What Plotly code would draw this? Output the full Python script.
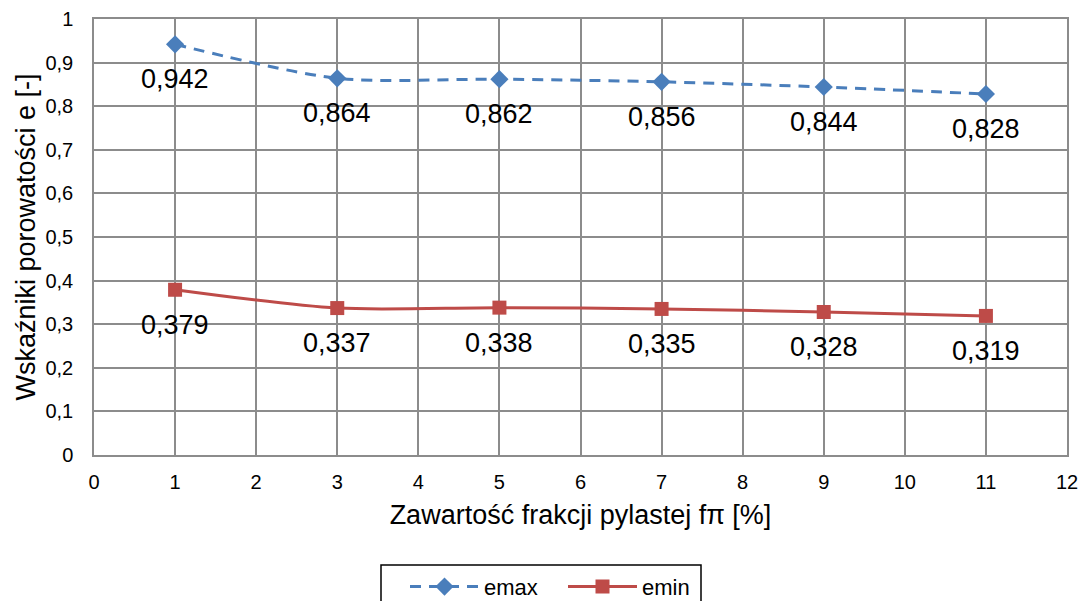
import plotly.graph_objects as go

x_vals = [1, 3, 5, 7, 9, 11]
emax = [0.942, 0.864, 0.862, 0.856, 0.844, 0.828]
emin = [0.379, 0.337, 0.338, 0.335, 0.328, 0.319]
series_names = ["emax", "emin"]
y_ticks = [0, 0.1, 0.2, 0.3, 0.4, 0.5, 0.6, 0.7, 0.8, 0.9, 1.0]
y_ticktext = ["0", "0,1", "0,2", "0,3", "0,4", "0,5", "0,6", "0,7", "0,8", "0,9", "1"]
x_ticks = list(range(0, 13))

BLUE = "#4A7EBB"
RED = "#BE4B48"
GRID = "#8C8C8C"
FONT = "Liberation Sans, Arial, sans-serif"

def fmt(v):
    return f"{v:.3f}".replace(".", ",")

fig = go.Figure()
fig.add_trace(go.Scatter(
    x=x_vals, y=emax, name=series_names[0], mode="lines+markers",
    line=dict(color=BLUE, width=3, dash="11px,8px", shape="spline", smoothing=0.8),
    marker=dict(symbol="diamond", size=14, color=BLUE),
))
fig.add_trace(go.Scatter(
    x=x_vals, y=emin, name=series_names[1], mode="lines+markers",
    line=dict(color=RED, width=3, shape="spline", smoothing=0.8),
    marker=dict(symbol="square", size=14, color=RED),
))

annotations = []
for series in (emax, emin):
    for xv, yv in zip(x_vals, series):
        annotations.append(dict(
            x=xv, y=yv, xref="x", yref="y", text=fmt(yv), showarrow=False,
            yshift=-35, xanchor="center", yanchor="middle",
            font=dict(family=FONT, size=27, color="black"),
        ))

# legend frame (drawn as a paper-space rectangle)
legend_frame = dict(
    type="rect", xref="paper", yref="paper",
    x0=(381 - 94) / 973, x1=(701 - 94) / 973,
    y0=-(565 - 455) / 436, y1=-(620 - 455) / 436,
    line=dict(color="black", width=1.5), fillcolor="rgba(0,0,0,0)", layer="above",
)

fig.update_layout(
    width=1081, height=601,
    margin=dict(l=94, r=14, t=19, b=146, autoexpand=False),
    paper_bgcolor="white", plot_bgcolor="white",
    font=dict(family=FONT, color="black"),
    annotations=annotations,
    shapes=[legend_frame],
    showlegend=True,
    legend=dict(
        orientation="h", x=(405 - 94) / 973, xanchor="left", y=-0.254, yanchor="top",
        borderwidth=0, bgcolor="rgba(0,0,0,0)",
        font=dict(family=FONT, size=22, color="black"),
        itemwidth=69, entrywidth=74, entrywidthmode="pixels", tracegroupgap=0,
    ),
    xaxis=dict(
        range=[0, 12], tickvals=x_ticks, ticktext=[str(t) for t in x_ticks],
        showgrid=True, gridcolor=GRID, gridwidth=1.5,
        showline=True, linecolor=GRID, linewidth=1.5, mirror=True,
        ticks="", zeroline=False, automargin=False, ticklabelstandoff=8,
        tickfont=dict(family=FONT, size=20, color="black"),
        title=dict(text="Zawartość frakcji pylastej fπ [%]",
                   font=dict(family=FONT, size=27, color="black"), standoff=13),
    ),
    yaxis=dict(
        range=[0, 1], tickvals=y_ticks, ticktext=y_ticktext,
        showgrid=True, gridcolor=GRID, gridwidth=1.5,
        showline=True, linecolor=GRID, linewidth=1.5, mirror=True,
        ticks="", zeroline=False, automargin=False, ticklabelstandoff=15,
        tickfont=dict(family=FONT, size=20, color="black"),
        title=dict(text="Wskaźniki porowatości e [-]",
                   font=dict(family=FONT, size=27, color="black"), standoff=2),
    ),
)

fig.write_html(
    "out.html",
    config={"displayModeBar": False},
    post_script="document.body.style.margin='0';document.body.style.overflow='hidden';",
)
